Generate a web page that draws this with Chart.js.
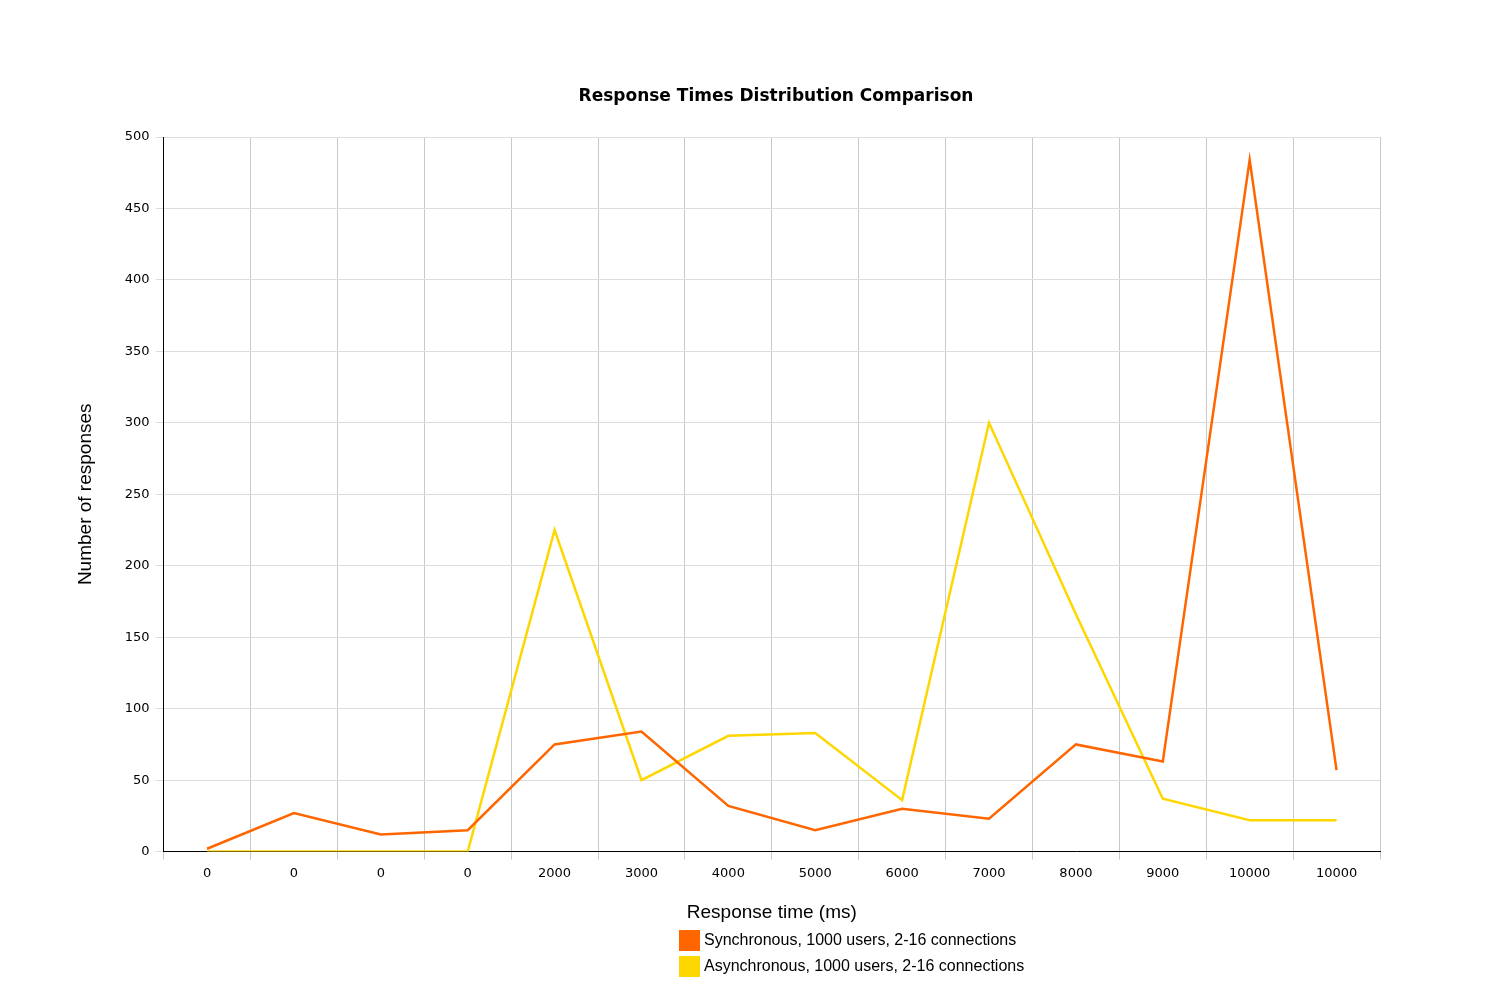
<!DOCTYPE html>
<html><head><meta charset="utf-8">
<script src="https://cdn.jsdelivr.net/npm/chart.js@4"></script>
<style>
body{margin:0;background:#fff;}
#wrap{position:relative;width:1500px;height:1000px;}
#title{position:absolute;left:0;width:1552px;top:85px;text-align:center;font:bold 17px "DejaVu Sans",sans-serif;color:#000;}
#legend{position:absolute;left:679px;top:927px;font:16px "Liberation Sans",Arial,sans-serif;color:#000;}
#legend div{display:flex;align-items:center;height:26px;}
#legend span.b{display:inline-block;width:21px;height:21px;margin-right:4px;}
</style></head><body>
<div id="wrap"><canvas id="c" width="1500" height="1000"></canvas>
<div id="title">Response Times Distribution Comparison</div>
<div id="legend"></div></div>
<script>
const categories=["0","0","0","0","2000","3000","4000","5000","6000","7000","8000","9000","10000","10000"];
const syncValues=[2,27,12,15,75,84,32,15,30,23,75,63,484,57];
const asyncValues=[0,0,0,0,225,50,81,83,36,300,166,37,22,22];
const seriesNames=["Synchronous, 1000 users, 2-16 connections","Asynchronous, 1000 users, 2-16 connections"];
const colors=["#ff6600","#ffd700"];
const tickFont={family:"DejaVu Sans",size:13};
new Chart(document.getElementById('c'),{
type:'line',
data:{labels:categories,datasets:[
{label:seriesNames[0],data:syncValues,borderColor:colors[0],backgroundColor:colors[0],borderWidth:2.5,pointRadius:0,tension:0},
{label:seriesNames[1],data:asyncValues,borderColor:colors[1],backgroundColor:colors[1],borderWidth:2.5,pointRadius:0,tension:0}]},
options:{responsive:false,animation:false,
layout:{padding:{left:70,right:120,top:137,bottom:72}},
plugins:{legend:{display:false},tooltip:{enabled:false},title:{display:false}},
scales:{
x:{offset:true,grid:{offset:true,color:"#c8c8c8",drawTicks:true,tickLength:8},border:{color:"#000"},
ticks:{color:"#000",font:tickFont,padding:6,maxRotation:0,autoSkip:false},
title:{display:true,text:"Response time (ms)",color:"#000",font:{family:"Liberation Sans",size:19},padding:{top:14}}},
y:{min:0,max:500,grid:{color:"#dddddd",tickLength:8},border:{color:"#000"},
ticks:{stepSize:50,color:"#000",font:tickFont,padding:6},
title:{display:true,text:"Number of responses",color:"#000",font:{family:"Liberation Sans",size:19},padding:{bottom:22}}}}}
});
const lg=document.getElementById('legend');
seriesNames.forEach((n,i)=>{const d=document.createElement('div');d.innerHTML='<span class="b" style="background:'+colors[i]+'"></span>'+n;lg.appendChild(d);});
</script></body></html>
